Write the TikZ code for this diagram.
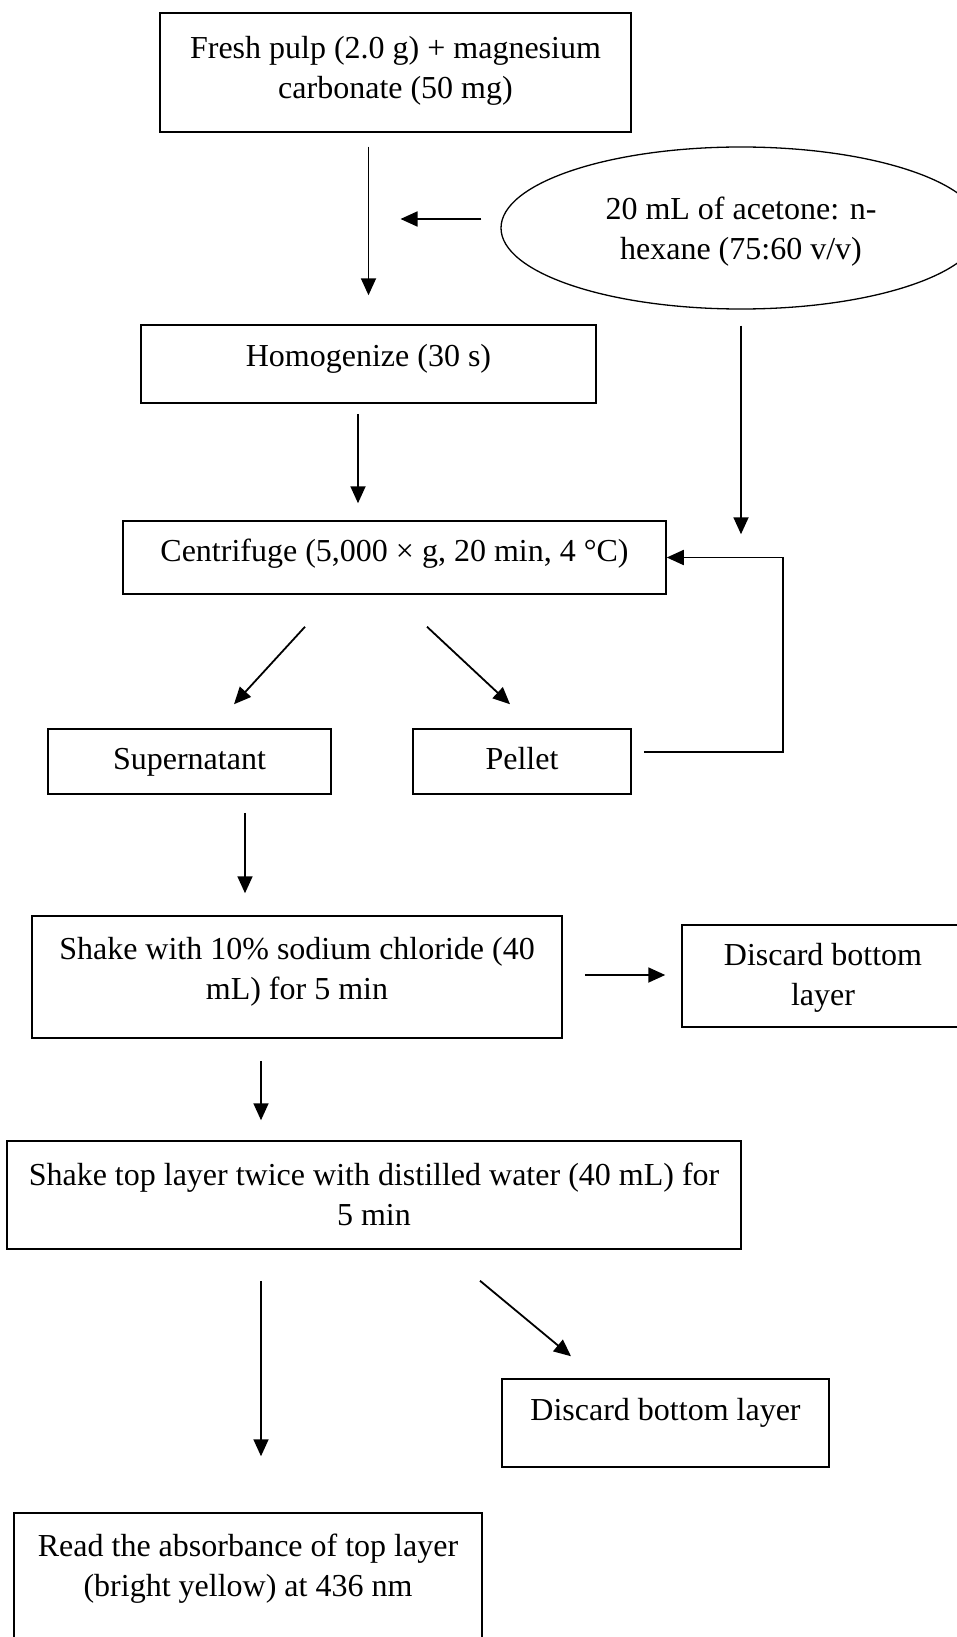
\documentclass[tikz,border=0pt]{standalone}
\usepackage{fontspec}
\setmainfont{Liberation Serif}
\usepackage{tikz}
\usetikzlibrary{
    shapes.geometric,      % Ellipse for the solvent
    arrows.meta,           % Modern arrow tips
    calc                   % Coordinate calculations
}
\tikzset{stepbox/.style={
    draw, line width=1.5pt, align=center, inner sep=0pt,
    font=\fontsize{32}{40}\selectfont
}}
\tikzset{flow/.style={
    -{Triangle[length=17pt,width=15pt]}, line width=1.8pt
}}
\tikzset{lift/.style={text depth=#1}}

\begin{document}
\begin{tikzpicture}[x=1pt,y=-1pt]
    \useasboundingbox (0,0) rectangle (956,1637);

    \node[stepbox, minimum width=471pt, minimum height=119pt, lift=11pt] (pulp) at (395.5,72.5) {Fresh pulp (2.0 g) + magnesium\\carbonate (50 mg)};
    \node[stepbox, ellipse, line width=1.3pt, minimum width=480pt, minimum height=162pt, lift=0pt] (solv) at (741,228) {20 mL of acetone: n-\\hexane (75:60 v/v)};
    \node[stepbox, minimum width=455pt, minimum height=78pt, lift=17pt] (homog) at (368.5,364) {Homogenize (30 s)};
    \node[stepbox, minimum width=543pt, minimum height=73pt, lift=14pt] (cent) at (394.5,557.5) {Centrifuge (5,000 × g, 20 min, 4 °C)};
    \node[stepbox, minimum width=283pt, minimum height=65pt, lift=6pt] (super) at (189.5,761.5) {Supernatant};
    \node[stepbox, minimum width=218pt, minimum height=65pt, lift=6pt] (pellet) at (522,761.5) {Pellet};
    \node[stepbox, minimum width=530pt, minimum height=122pt, lift=18pt] (shake) at (297,977) {Shake with 10\% sodium chloride (40\\mL) for 5 min};
    \node[stepbox, minimum width=282pt, minimum height=102pt, lift=3pt] (disc1) at (823,976) {Discard bottom\\layer};
    \node[stepbox, minimum width=734pt, minimum height=108pt, lift=2pt] (shake2) at (374,1195) {Shake top layer twice with distilled water (40 mL) for\\5 min};
    \node[stepbox, minimum width=327pt, minimum height=88pt, lift=27pt] (disc2) at (665.5,1423) {Discard bottom layer};
    \node[stepbox, minimum width=468pt, minimum height=147pt, lift=42pt] (read) at (248,1586.5) {Read the absorbance of top layer\\(bright yellow) at 436 nm};

    % extraction
    \draw[flow, shorten <=14pt, shorten >=29pt] (pulp.south -| homog.north) -- (homog.north);
    \draw[flow] ($(solv.west)+(-19,-9)$) -- ($(homog.north |- solv.west)+(32,-9)$);
    \draw[flow, shorten <=16pt] (solv.south) -- ($(solv.south |- cent.north)+(0,14)$);
    \draw[flow, shorten <=10pt, shorten >=17pt] ($(homog.south)+(-10.5,0)$) -- ($(homog.south |- cent.north)+(-10.5,0)$);

    % centrifuge and re-extraction of the pellet
    \draw[flow] ($(cent.south)+(-89.5,32)$) -- ($(super.north)+(44.5,-24)$);
    \draw[flow] ($(cent.south)+(32.5,32)$) -- ($(pellet.north)+(-12,-24)$);
    \draw[flow] ($(pellet.east)+(12,-9.5)$) -- ++(139,0) |- (cent.east);

    % washing
    \draw[flow, shorten <=18pt, shorten >=22pt] ($(super.south)+(55.5,0)$) -- ($(super.south |- shake.north)+(55.5,0)$);
    \draw[flow, shorten <=22pt, shorten >=16pt] ($(shake.east)+(0,-2)$) -- ($(shake.east -| disc1.west)+(0,-2)$);
    \draw[flow, shorten <=22pt, shorten >=20pt] ($(shake.south)+(-36,0)$) -- ($(shake.south |- shake2.north)+(-36,0)$);
    \coordinate (rtop) at ($(read.north)+(13,0)$);
    \draw[flow, shorten <=31pt, shorten >=56pt] (rtop |- shake2.south) -- (rtop);
    \draw[flow] ($(shake2.south)+(106,31)$) -- ($(disc2.north)+(-94.5,-22)$);
\end{tikzpicture}
\end{document}
